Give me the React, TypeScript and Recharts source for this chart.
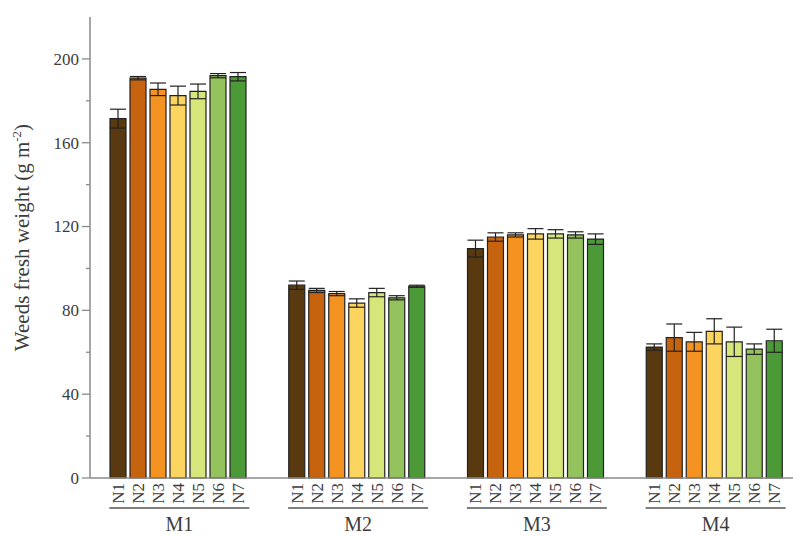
import { BarChart, Bar, XAxis, YAxis, ErrorBar, LabelList } from 'recharts';

const categories = ['M1', 'M2', 'M3', 'M4'];
const seriesNames = ['N1', 'N2', 'N3', 'N4', 'N5', 'N6', 'N7'];

const n1 = [171.5, 92, 109.5, 62.5];
const n2 = [190.8, 89.5, 115, 67];
const n3 = [185.5, 88, 116, 65];
const n4 = [182.5, 83.5, 116.5, 70];
const n5 = [184.5, 88.5, 116.5, 65];
const n6 = [192, 86, 116, 61.5];
const n7 = [191.5, 91.5, 114, 65.5];

const n1Err = [4.5, 2, 4, 1.5];
const n2Err = [0.8, 1, 2, 6.5];
const n3Err = [3, 1, 1, 4.5];
const n4Err = [4.5, 2, 2.5, 6];
const n5Err = [3.5, 2, 2, 7];
const n6Err = [1, 1, 1.5, 2.5];
const n7Err = [2, 0.5, 2.5, 5.5];

const yTicks = [0, 20, 40, 60, 80, 100, 120, 140, 160, 180, 200];

const seriesValues = [n1, n2, n3, n4, n5, n6, n7];
const seriesErrors = [n1Err, n2Err, n3Err, n4Err, n5Err, n6Err, n7Err];
const colors = ['#583910', '#c6630f', '#f59322', '#fbd55f', '#d6e67b', '#94c25c', '#4c9a37'];

const FONT = '"Liberation Serif", "Times New Roman", serif';
const TEXT = '#3d3d3d';
const AXIS = '#8a8a8a';

const data = categories.map((c, i) => {
  const row: Record<string, string | number> = { name: c };
  seriesNames.forEach((s, k) => {
    row[s] = seriesValues[k][i];
    row[s + 'e'] = seriesErrors[k][i];
  });
  return row;
});

const YTick = (props: any) => {
  const { x, y, payload } = props;
  const major = payload.value % 40 === 0;
  return (
    <g>
      <line x1={x - (major ? 8 : 4)} x2={x} y1={y} y2={y} stroke={AXIS} strokeWidth={1.3} />
      {major && (
        <text x={x - 11} y={y} dy="0.35em" textAnchor="end" fontSize={17} fontFamily={FONT} fill={TEXT}>
          {payload.value}
        </text>
      )}
    </g>
  );
};

const XTick = (props: any) => {
  const { x, y, payload } = props;
  return (
    <g>
      <line x1={x - 70} x2={x + 70} y1={y + 30} y2={y + 30} stroke="#555" strokeWidth={1.6} />
      <text x={x} y={y + 53} textAnchor="middle" fontSize={20} fontFamily={FONT} fill={TEXT}>
        {payload.value}
      </text>
    </g>
  );
};

const makeNameLabel = (name: string) => (props: any) => {
  const vb = props.viewBox || props;
  const x = props.x ?? vb.x;
  const y = props.y ?? vb.y;
  const w = props.width ?? vb.width;
  const h = props.height ?? vb.height;
  const cx = x + w / 2;
  const base = y + h + 5;
  return (
    <text
      x={cx}
      y={base}
      dy="0.35em"
      transform={`rotate(-90, ${cx}, ${base})`}
      textAnchor="end"
      fontSize={17}
      fontFamily={FONT}
      fill={TEXT}
    >
      {name}
    </text>
  );
};

const YLabel = (props: any) => {
  const vb = props.viewBox;
  const cx = 22;
  const cy = vb.y + vb.height / 2 - 10;
  return (
    <text
      x={cx}
      y={cy}
      dy="0.35em"
      textAnchor="middle"
      transform={`rotate(-90, ${cx}, ${cy})`}
      fontSize={21}
      fontFamily={FONT}
      fill={TEXT}
    >
      Weeds fresh weight (g m<tspan dy={-8} fontSize={13}>-2</tspan>
      <tspan dy={8}>)</tspan>
    </text>
  );
};

export default function App() {
  return (
    <div style={{ position: 'absolute', left: 0, top: 0, width: 793, height: 536, overflow: 'hidden', background: '#fff' }}>
      <BarChart
        width={806}
        height={536}
        data={data}
        margin={{ top: 17, right: 1, left: 0, bottom: 0 }}
        barCategoryGap={20}
        barGap={4}
      >
        <XAxis
          dataKey="name"
          height={58}
          tickLine={false}
          tickSize={0}
          tickMargin={0}
          axisLine={{ stroke: AXIS, strokeWidth: 1.5 }}
          tick={<XTick />}
          interval={0}
        />
        <YAxis
          width={90}
          domain={[0, 220]}
          ticks={yTicks}
          tickLine={false}
          tickSize={0}
          tickMargin={0}
          axisLine={{ stroke: AXIS, strokeWidth: 1.5 }}
          tick={<YTick />}
          interval={0}
          label={{ content: <YLabel /> } as any}
        />
        {seriesNames.map((s, k) => (
          <Bar
            key={s}
            dataKey={s}
            fill={colors[k]}
            stroke="#222"
            strokeWidth={1.2}
            isAnimationActive={false}
          >
            <ErrorBar dataKey={s + 'e'} width={8} stroke="#222" strokeWidth={1.2} />
            <LabelList dataKey={s} content={makeNameLabel(s)} />
          </Bar>
        ))}
      </BarChart>
    </div>
  );
}
